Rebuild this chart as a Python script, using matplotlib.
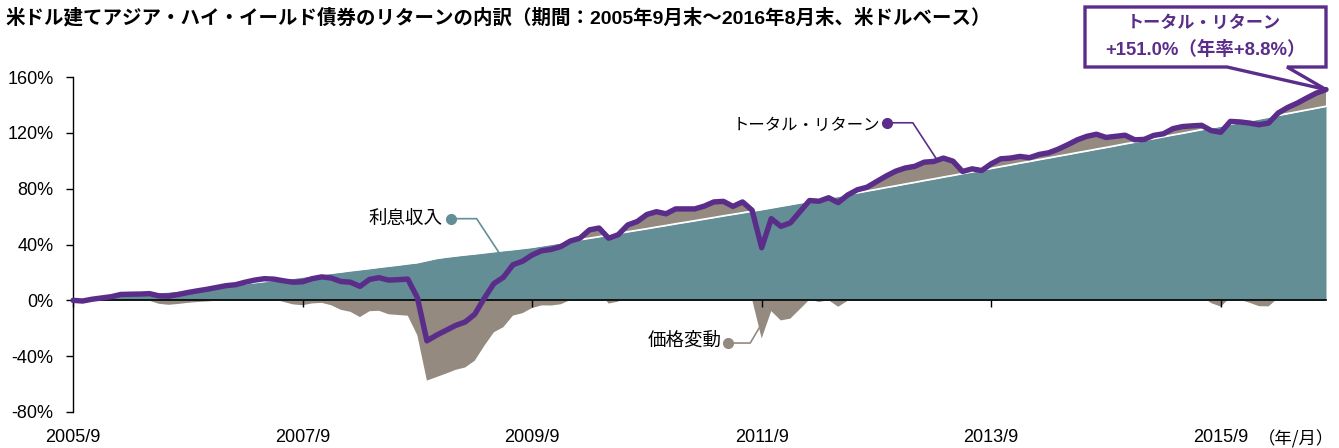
import numpy as np
import matplotlib
matplotlib.use('Agg')
import matplotlib.pyplot as plt
from matplotlib.patches import Polygon
from matplotlib.transforms import blended_transform_factory

# ---------------- data (monthly, 2005/9 .. 2016/8, cumulative %) ----------------
total_return = [
    0.0, -0.5, 0.8, 1.7, 2.6, 4.2, 4.4, 4.5, 4.8, 3.2, 3.0, 4.2,
    5.6, 6.8, 7.9, 9.2, 10.5, 11.2, 13.0, 14.5, 15.5, 15.2, 14.0, 13.0,
    13.3, 15.5, 16.8, 16.0, 13.5, 13.0, 10.0, 15.0, 16.2, 14.5, 14.8, 15.2,
    2.0, -29.0, -25.0, -21.5, -18.0, -15.5, -10.0, 1.5, 12.0, 16.5, 25.5, 28.0,
    32.5, 35.5, 36.5, 38.5, 42.5, 44.5, 50.5, 51.8, 44.5, 47.0, 54.0, 56.5,
    61.5, 63.5, 62.0, 65.5, 65.5, 65.5, 67.5, 70.5, 70.9, 67.3, 70.5, 64.5,
    37.7, 58.5, 53.0, 55.5, 63.5, 71.5, 71.0, 73.5, 70.0, 75.5, 79.2, 81.0,
    85.0, 89.0, 92.5, 94.8, 96.0, 99.0, 99.5, 101.9, 99.7, 92.3, 94.2, 93.0,
    97.8, 101.4, 101.9, 103.1, 102.2, 104.5, 105.7, 108.3, 111.5, 115.0, 117.5, 119.0,
    116.7, 117.5, 118.3, 115.0, 115.3, 118.2, 119.3, 123.0, 124.5, 125.0, 125.4, 121.6,
    120.4, 128.2, 127.8, 127.0, 125.8, 127.0, 134.2, 138.2, 141.3, 145.0, 148.5, 151.0,
]
interest_income = [
    0.0, 0.7, 1.3, 2.0, 2.7, 3.3, 4.0, 4.6, 5.1, 5.7, 6.2, 6.8,
    7.4, 8.0, 8.7, 9.5, 10.3, 11.1, 11.9, 12.7, 13.5, 14.3, 15.1, 15.9,
    16.8, 17.7, 18.6, 19.5, 20.3, 21.2, 22.0, 22.8, 23.7, 24.5, 25.3, 26.2,
    27.0, 28.5, 30.0, 31.0, 31.8, 32.6, 33.3, 34.1, 34.9, 35.7, 36.4, 37.2,
    38.0, 39.1, 40.2, 41.3, 42.3, 43.4, 44.5, 45.6, 46.8, 47.9, 49.1, 50.2,
    51.3, 52.5, 53.6, 54.8, 55.9, 57.0, 58.2, 59.3, 60.5, 61.6, 62.7, 63.9,
    65.0, 66.2, 67.4, 68.6, 69.8, 71.0, 72.2, 73.4, 74.6, 75.8, 77.0, 78.3,
    79.5, 80.8, 82.0, 83.3, 84.5, 85.8, 87.0, 88.3, 89.5, 90.8, 92.0, 93.3,
    94.5, 95.8, 97.0, 98.3, 99.5, 100.8, 102.0, 103.3, 104.5, 105.8, 107.0, 108.3,
    109.5, 110.8, 112.1, 113.3, 114.6, 115.9, 117.2, 118.5, 119.7, 121.0, 122.3, 123.6,
    124.9, 126.1, 127.4, 128.7, 130.0, 131.3, 132.5, 133.8, 135.1, 136.4, 137.7, 139.0,
]
x_tick_labels = ['2005/9', '2007/9', '2009/9', '2011/9', '2013/9', '2015/9']
x_tick_months = [0, 24, 48, 72, 96, 120]
y_ticks = [-80, -40, 0, 40, 80, 120, 160]

title = '米ドル建てアジア・ハイ・イールド債券のリターンの内訳（期間：2005年9月末～2016年8月末、米ドルベース）'
callout_line1 = 'トータル・リターン'
callout_line2 = '+151.0%（年率+8.8%）'

TEAL = '#648e96'
GRAY = '#948a7f'
PURPLE = '#5b2d8a'
JP = ['Noto Sans CJK JP', 'DejaVu Sans']
LAT = ['Liberation Sans', 'DejaVu Sans']
MIX = ['Liberation Sans', 'Noto Sans CJK JP', 'DejaVu Sans']

W, H = 1339, 448
fig = plt.figure(figsize=(W / 100, H / 100), dpi=100)
ax = fig.add_axes([73 / W, 1 - 412 / H, (1326 - 73) / W, (412 - 77) / H])

x = np.arange(len(total_return))
tr = np.array(total_return)
inc = np.array(interest_income)
price = tr - inc

ax.fill_between(x, 0, inc, color=TEAL, lw=0, zorder=1)
ax.fill_between(x, inc, tr, where=price > 0, interpolate=True, color=GRAY, lw=0, zorder=1.2)
ax.fill_between(x, 0, price, where=price < 0, interpolate=True, color=GRAY, lw=0, zorder=1.2)
ax.plot(x, inc, color='white', lw=1.3, zorder=1.5)
ax.plot(x, tr, color=PURPLE, lw=3.9, solid_joinstyle='round', solid_capstyle='round',
        zorder=5, clip_on=False)

ax.set_xlim(0, len(x) - 1)
ax.set_ylim(-80, 160)
ax.spines['top'].set_visible(False)
ax.spines['right'].set_visible(False)
ax.spines['bottom'].set_position(('data', 0))
ax.spines['bottom'].set_linewidth(1.2)
ax.spines['left'].set_linewidth(1.0)
ax.spines['bottom'].set_zorder(4)
ax.set_xticks(x_tick_months)
ax.tick_params(axis='x', direction='out', length=5, width=1, labelbottom=False)
ax.set_yticks(y_ticks)
ax.set_yticklabels([f'{v}%' for v in y_ticks], family=LAT, fontsize=13)
ax.tick_params(axis='y', direction='out', length=5, width=1, pad=9)

bt = blended_transform_factory(ax.transData, ax.transAxes)
for m, lab in zip(x_tick_months, x_tick_labels):
    ax.text(m, -0.075, lab, transform=bt, ha='center', va='center', fontsize=13,
            family=LAT, clip_on=False)
fig.text(1296 / W, 1 - 439 / H, '（年/月）', ha='center', va='center', fontsize=12.5, family=JP)

# title
fig.text(5 / W, 1 - 18 / H, title, ha='left', va='center', fontsize=14.0,
         fontweight='bold', family=MIX)

# series labels with leader lines
ax.text(38.6, 58.5, '利息収入', ha='right', va='center', fontsize=13.3, family=JP)
ax.plot([39.5, 42.2, 44.5], [58.5, 58.5, 34.6], color=TEAL, lw=1.2, zorder=6)
ax.plot([39.5], [58.5], 'o', color=TEAL, ms=7, zorder=6)

ax.text(84.4, 125.5, 'トータル・リターン', ha='right', va='center', fontsize=11.8, family=JP)
ax.plot([85.1, 87.8, 90.3], [127.2, 127.2, 101.0], color=PURPLE, lw=1.2, zorder=6)
ax.plot([85.1], [127.2], 'o', color=PURPLE, ms=7, zorder=6)

ax.text(67.8, -28.6, '価格変動', ha='right', va='center', fontsize=13.3, family=JP)
ax.plot([68.5, 70.8, 72.0], [-30.6, -30.6, -16.8], color=GRAY, lw=1.2, zorder=6, clip_on=False)
ax.plot([68.5], [-30.6], 'o', color=GRAY, ms=7, zorder=6)

# callout box with tail pointing to the last total-return point
fig.canvas.draw()
tip = ax.transData.transform((x[-1], tr[-1]))
tip_fig = (tip[0] / W, tip[1] / H)

def pf(px, py):
    return (px / W, 1 - py / H)

verts = [pf(1085, 7), pf(1326, 7), pf(1326, 67), pf(1287, 67), tip_fig,
         pf(1227, 67), pf(1085, 67)]
fig.patches.append(Polygon(verts, closed=True, transform=fig.transFigure,
                           facecolor='white', edgecolor=PURPLE, lw=2.4,
                           joinstyle='miter', zorder=10))
fig.text(1204 / W, 1 - 23 / H, callout_line1, ha='center', va='center', fontsize=12.3,
         fontweight='bold', color=PURPLE, family=JP, zorder=11)
fig.text(1205 / W, 1 - 50 / H, callout_line2, ha='center', va='center', fontsize=13.3,
         fontweight='bold', color=PURPLE, family=MIX, zorder=11)

fig.savefig('out.png', dpi=100)
